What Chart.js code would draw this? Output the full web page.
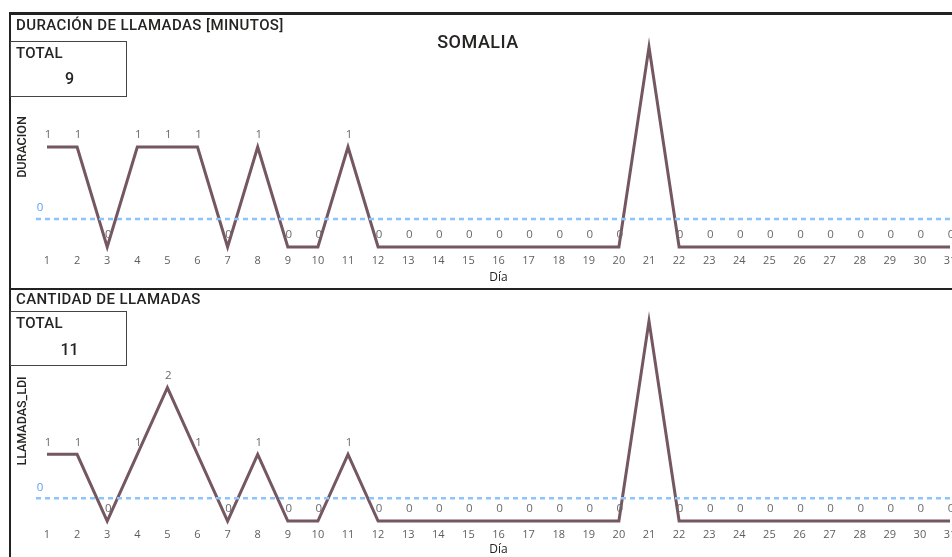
<!DOCTYPE html>
<html>
<head>
<meta charset="utf-8">
<script src="https://cdn.jsdelivr.net/npm/chart.js@4.4.1/dist/chart.umd.min.js"></script>
<style>
  html, body { margin:0; padding:0; background:#fff; }
  body { width:952px; height:557px; position:relative; overflow:hidden; font-family: Roboto, "Noto Sans", sans-serif; }
  .abs { position:absolute; }
  .frame { left:9px; top:12px; width:960px; height:600px; border-left:2px solid #222; border-top:3px solid #222; box-sizing:border-box; }
  .divider { left:9px; top:288px; width:943px; height:2px; background:#222; }
  .ptitle { font-size:15px; font-weight:500; color:#252423; white-space:nowrap; letter-spacing:0.4px; }
  .box { left:10px; width:117px; border:1px solid #444; box-sizing:border-box; background:#fff; }
  .box .lbl { position:absolute; left:5px; top:2px; font-size:15px; font-weight:500; color:#252423; letter-spacing:0.3px; }
  .box .val { position:absolute; left:0; width:117px; text-align:center; font-size:16px; font-weight:500; color:#252423; }
  .main { left:0; width:956px; text-align:center; font-size:18px; font-weight:500; color:#252423; letter-spacing:0.5px; }
  canvas { position:absolute; left:0; }
</style>
</head>
<body>
<div class="abs frame"></div>
<div class="abs divider"></div>

<canvas id="c1" width="952" height="288" style="top:0px;width:952px;height:288px;"></canvas>
<canvas id="c2" width="952" height="267" style="top:290px;width:952px;height:267px;"></canvas>

<div class="abs ptitle" style="left:16px;top:16px;">DURACIÓN DE LLAMADAS [MINUTOS]</div>
<div class="abs main" style="top:31px;">SOMALIA</div>
<div class="abs box" style="top:41px;height:56px;"><div class="lbl">TOTAL</div><div class="val" style="top:27px;" id="tot1"></div></div>

<div class="abs ptitle" style="left:16px;top:290px;">CANTIDAD DE LLAMADAS</div>
<div class="abs box" style="top:311px;height:55px;"><div class="lbl">TOTAL</div><div class="val" style="top:28px;" id="tot2"></div></div>

<script>
// ---- data ----
const days = ["1","2","3","4","5","6","7","8","9","10","11","12","13","14","15","16","17","18","19","20","21","22","23","24","25","26","27","28","29","30","31"];
const duracion = [1,1,0,1,1,1,0,1,0,0,1,0,0,0,0,0,0,0,0,0,2,0,0,0,0,0,0,0,0,0,0];
const llamadas = [1,1,0,1,2,1,0,1,0,0,1,0,0,0,0,0,0,0,0,0,3,0,0,0,0,0,0,0,0,0,0];
const yTitles = ["DURACION", "LLAMADAS_LDI"];
const xTitle = "Día";

const sum = a => a.reduce((s, v) => s + v, 0);
document.getElementById('tot1').textContent = sum(duracion);
document.getElementById('tot2').textContent = sum(llamadas);

const LINE_COLOR = '#745761';
const AVG_COLOR = '#8cc4fb';
const AVG_LABEL = '#5b9ef5';
const TICK_COLOR = '#605e5c';
const TEXT_COLOR = '#252423';
const LABEL_FONT = '11.5px "Open Sans", "Noto Sans", sans-serif';

const overlay = {
  id: 'overlay',
  afterDatasetsDraw(chart) {
    const ctx = chart.ctx;
    const ca = chart.chartArea;
    const ys = chart.scales.y;
    const data = chart.data.datasets[0].data;
    const avg = sum(data) / data.length;
    const ay = ys.getPixelForValue(avg);
    ctx.save();
    // average line
    ctx.strokeStyle = AVG_COLOR;
    ctx.lineWidth = 2.5;
    ctx.setLineDash([5, 4]);
    ctx.beginPath();
    ctx.moveTo(ca.left - 11, ay + 1);
    ctx.lineTo(chart.width, ay + 1);
    ctx.stroke();
    ctx.setLineDash([]);
    ctx.font = LABEL_FONT;
    ctx.textAlign = 'center';
    ctx.textBaseline = 'middle';
    ctx.fillStyle = AVG_LABEL;
    ctx.fillText(avg.toFixed(0), ca.left - 7, ay - 10);
    // data labels
    ctx.fillStyle = '#6a6a6a';
    const meta = chart.getDatasetMeta(0);
    meta.data.forEach((pt, i) => {
      const ly = pt.y - 12;
      if (ly - 6 < ca.top) return;
      ctx.fillText(String(data[i]), pt.x + 1, ly);
    });
    ctx.restore();
  }
};

function makeChart(id, values, yTitle, topPad, xHeight, titleBottomPad) {
  return new Chart(document.getElementById(id), {
    type: 'line',
    data: {
      labels: days,
      datasets: [{
        data: values,
        borderColor: LINE_COLOR,
        borderWidth: 3,
        pointRadius: 0,
        pointHoverRadius: 0,
        tension: 0,
        fill: false,
        clip: false
      }]
    },
    options: {
      responsive: false,
      animation: false,
      events: [],
      layout: { padding: { top: topPad, bottom: 0, left: 0, right: 2 } },
      plugins: { legend: { display: false }, tooltip: { enabled: false }, title: { display: false } },
      scales: {
        x: {
          type: 'category',
          offset: false,
          grid: { display: false, drawTicks: false },
          border: { display: false },
          ticks: {
            color: TICK_COLOR,
            font: { family: '"Open Sans", "Noto Sans", sans-serif', size: 11 },
            padding: 7,
            maxRotation: 0,
            autoSkip: false
          },
          title: {
            display: true,
            text: xTitle,
            color: TEXT_COLOR,
            font: { family: '"Open Sans", "Noto Sans", sans-serif', size: 12 },
            padding: { top: 0, bottom: titleBottomPad }
          },
          afterFit(scale) {
            scale.height = xHeight;
            scale.paddingLeft = 0;
            scale.paddingRight = 0;
          }
        },
        y: {
          min: 0,
          max: Math.max(...values),
          grid: { display: false, drawTicks: false },
          border: { display: false },
          ticks: { display: false },
          title: {
            display: true,
            text: yTitle,
            color: TEXT_COLOR,
            font: { family: 'Roboto, sans-serif', size: 12.5, weight: '500' },
            padding: { top: 15, bottom: 0 }
          },
          afterFit(scale) {
            scale.width = 47;
          }
        }
      }
    },
    plugins: [overlay]
  });
}

makeChart('c1', duracion, yTitles[0], 47, 41, 3);
makeChart('c2', llamadas, yTitles[1], 31, 36, 0);
</script>
</body>
</html>
